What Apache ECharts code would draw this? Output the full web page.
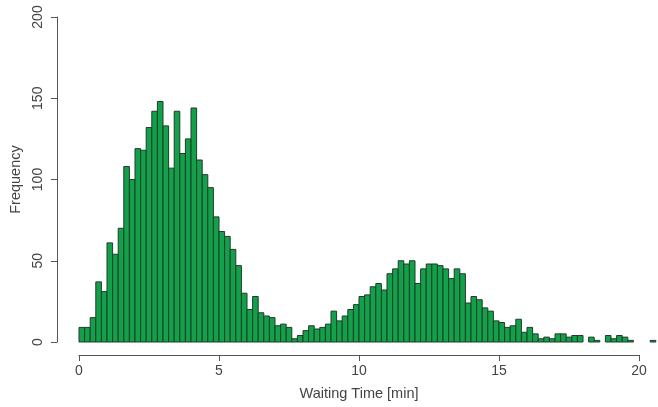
<!DOCTYPE html>
<html>
<head>
<meta charset="utf-8">
<script src="https://cdn.jsdelivr.net/npm/echarts@6/dist/echarts.min.js"></script>
<style>html,body{margin:0;padding:0;background:#fff}#c{width:658px;height:407px}</style>
</head>
<body>
<div id="c"></div>
<script>
// Histogram bins: start at 0, width 0.2 min
var binStart = 0;
var binWidth = 0.2;
var counts = [
  9, 9, 15, 37, 31, 61, 54, 70, 108, 100,
  119, 118, 132, 142, 148, 133, 107, 142, 116, 125,
  144, 112, 103, 95, 77, 68, 65, 57, 47, 30,
  20, 28, 18, 16, 15, 10, 11, 9, 2, 4,
  7, 10, 8, 9, 11, 19, 13, 16, 20, 23,
  28, 29, 34, 36, 32, 42, 45, 50, 48, 50,
  36, 45, 48, 48, 47, 45, 39, 45, 42, 24,
  28, 26, 21, 19, 13, 12, 9, 10, 14, 6,
  9, 5, 2, 3, 2, 5, 5, 3, 4, 4,
  0, 3, 1, 0, 4, 2, 4, 3, 1, 0,
  0, 0, 1
];
var xTicks = [0, 5, 10, 15, 20];
var yTicks = [0, 50, 100, 150, 200];
var xLabel = 'Waiting Time [min]';
var yLabel = 'Frequency';

var data = counts.map(function (c, i) { return [binStart + i * binWidth, c]; });

var chart = echarts.init(document.getElementById('c'), null, {renderer: 'canvas'});
var txt = {color: '#444', fontFamily: 'Liberation Sans, Arial, sans-serif', fontSize: 14};
chart.setOption({
  animation: false,
  backgroundColor: '#fff',
  grid: {left: 78, right: 19, top: 17, bottom: 65},
  xAxis: {
    type: 'value', min: xTicks[0], max: xTicks[xTicks.length - 1], interval: 5,
    offset: 13,
    splitLine: {show: false},
    axisLine: {show: true, onZero: false, lineStyle: {color: '#555', width: 1}},
    axisTick: {show: true, length: 6, lineStyle: {color: '#555'}},
    axisLabel: Object.assign({margin: 9}, txt),
    name: xLabel, nameLocation: 'middle', nameGap: 31,
    nameTextStyle: Object.assign({}, txt, {fontSize: 14.5})
  },
  yAxis: {
    type: 'value', min: yTicks[0], max: yTicks[yTicks.length - 1], interval: 50,
    offset: 22,
    splitLine: {show: false},
    axisLine: {show: true, onZero: false, lineStyle: {color: '#555', width: 1}},
    axisTick: {show: true, length: 6, lineStyle: {color: '#555'}},
    axisLabel: Object.assign({margin: 12, rotate: 90, verticalAlign: 'bottom', align: 'center'}, txt),
    name: yLabel, nameLocation: 'middle', nameGap: 34, nameRotate: 90,
    nameTextStyle: Object.assign({}, txt, {fontSize: 14.5})
  },
  series: [{
    type: 'custom',
    clip: false,
    data: data,
    renderItem: function (params, api) {
      var x0 = api.value(0), h = api.value(1);
      if (h <= 0) return null;
      var p0 = api.coord([x0, h]);
      var p1 = api.coord([x0 + binWidth, 0]);
      return {
        type: 'rect',
        shape: {x: p0[0], y: p0[1], width: p1[0] - p0[0], height: p1[1] - p0[1]},
        style: {fill: '#12A04A', stroke: '#1f3d29', lineWidth: 1}
      };
    }
  }]
});
</script>
</body>
</html>
